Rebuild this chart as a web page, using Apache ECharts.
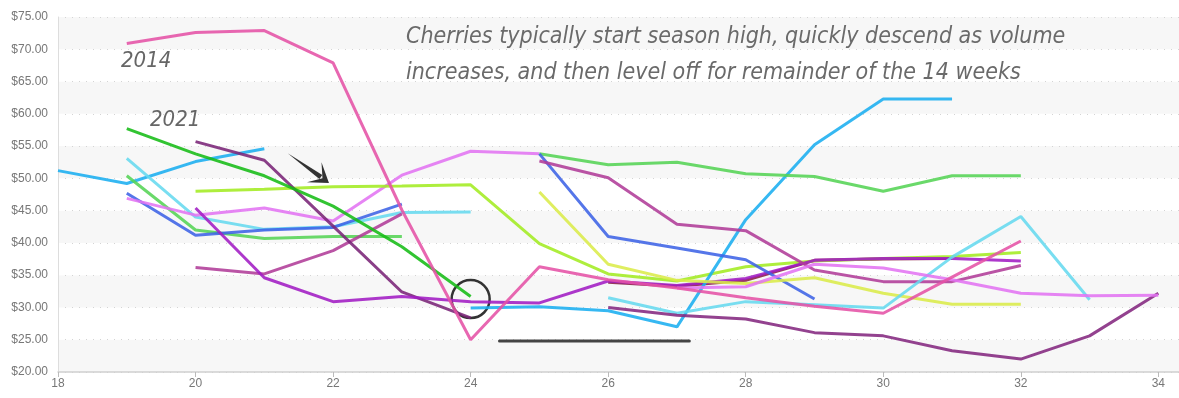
<!DOCTYPE html>
<html>
<head>
<meta charset="utf-8">
<script src="https://cdn.jsdelivr.net/npm/echarts@6/dist/echarts.min.js"></script>
<style>
  html, body { margin: 0; padding: 0; background: #fff; }
  #chart { width: 1179px; height: 398px; }
</style>
</head>
<body>
<div id="chart"></div>
<script>
// weekly cherry prices, one line per season (first week + weekly values)
var pinkStart = 19;
var pinkVals = [70.9, 72.6, 72.9, 67.9, 45.1, 25.0, 36.3, 34.3, 33.0, 31.5, 30.2, 29.1, 34.7, 40.3];
var greenStart = 19;
var greenVals = [57.7, 53.8, 50.4, 45.7, 39.4, 31.7];
var skyAStart = 18;
var skyAVals = [51.2, 49.2, 52.6, 54.6];
var cyanAStart = 19;
var cyanAVals = [53.1, 44.0, 42.1, 42.5, 44.7, 44.8];
var mgreenAStart = 19;
var mgreenAVals = [50.4, 42.0, 40.7, 41.0, 41.0];
var limeStart = 20;
var limeVals = [48.0, 48.3, 48.7, 48.8, 49.0, 39.9, 35.2, 34.1, 36.3, 37.2, 37.6, 37.9, 38.5];
var orchidAStart = 19;
var orchidAVals = [46.9, 44.3, 45.4, 43.4, 50.5, 54.2, 53.8];
var royalAStart = 19;
var royalAVals = [47.7, 41.2, 42.0, 42.4, 46.0];
var purpleStart = 20;
var purpleVals = [45.4, 34.6, 30.9, 31.7, 30.9, 30.7, 34.1, 33.4, 34.5, 37.3, 37.6, 37.6, 37.2];
var dpurpleAStart = 20;
var dpurpleAVals = [55.7, 52.8, 42.6, 32.4, 28.4];
var magentaAStart = 20;
var magentaAVals = [36.2, 35.2, 38.8, 44.5];
var skyBStart = 24;
var skyBVals = [29.9, 30.1, 29.5, 27.0, 43.6, 55.2, 62.3, 62.3];
var mgreenBStart = 25;
var mgreenBVals = [53.8, 52.1, 52.5, 50.7, 50.3, 48.0, 50.4, 50.4];
var royalBStart = 25;
var royalBVals = [53.8, 41.0, 39.2, 37.4, 31.3];
var magentaBStart = 25;
var magentaBVals = [52.7, 50.1, 42.9, 41.9, 35.8, 34.0, 34.0, 36.5];
var yellowStart = 25;
var yellowVals = [47.9, 36.7, 34.2, 33.7, 34.6, 32.2, 30.5, 30.5];
var cyanBStart = 26;
var cyanBVals = [31.5, 29.1, 30.9, 30.4, 29.9, 37.8, 44.1, 31.2];
var dpurpleBStart = 26;
var dpurpleBVals = [30.0, 28.8, 28.2, 26.1, 25.6, 23.3, 22.0, 25.6, 32.2];
var orchidBStart = 27;
var orchidBVals = [33.0, 33.2, 36.7, 36.1, 34.3, 32.2, 31.8, 31.9];
var maroonStart = 26;
var maroonVals = [33.9, 33.3, 34.2, 37.3, 37.5, 37.6];

var yTicks = { min: 20, max: 75, step: 5 };
var xTicks = { min: 18, max: 34.3, step: 2 };

var lines = [
    [maroonStart, maroonVals, '#8a1f45'],
    [skyAStart, skyAVals, '#1aaef0'],
    [cyanAStart, cyanAVals, '#66d9ef'],
    [mgreenAStart, mgreenAVals, '#55d455'],
    [royalAStart, royalAVals, '#3d63e6'],
    [orchidAStart, orchidAVals, '#e274f2'],
    [magentaAStart, magentaAVals, '#b03c98'],
    [limeStart, limeVals, '#a3ec22'],
    [dpurpleAStart, dpurpleAVals, '#7a2478'],
    [purpleStart, purpleVals, '#a21cc4'],
    [greenStart, greenVals, '#16bc16'],
    [skyBStart, skyBVals, '#1aaef0'],
    [mgreenBStart, mgreenBVals, '#55d455'],
    [royalBStart, royalBVals, '#3d63e6'],
    [magentaBStart, magentaBVals, '#b03c98'],
    [yellowStart, yellowVals, '#dbec4a'],
    [cyanBStart, cyanBVals, '#66d9ef'],
    [dpurpleBStart, dpurpleBVals, '#84287f'],
    [orchidBStart, orchidBVals, '#e274f2'],
    [pinkStart, pinkVals, '#e552a6']
];

var series = lines.map(function (l) {
    return {
        type: 'line',
        showSymbol: false,
        symbol: 'none',
        silent: true,
        lineStyle: { width: 3, color: l[2], opacity: 0.88 },
        data: l[1].map(function (v, i) { return [l[0] + i, v]; })
    };
});

var myChart = echarts.init(document.getElementById('chart'));
var handFont = '"Liberation Sans Narrow", "DejaVu Sans Condensed", sans-serif';

var option = {
    animation: false,
    grid: { left: 58, right: 0, top: 17, bottom: 26, outerBoundsMode: 'none' },
    xAxis: {
        type: 'value',
        min: xTicks.min,
        max: xTicks.max,
        interval: xTicks.step,
        axisLine: { lineStyle: { color: '#cfcfcf', width: 1.5 } },
        axisTick: { show: true, length: 5, lineStyle: { color: '#bbb' } },
        axisLabel: { color: '#777', fontSize: 12, fontFamily: 'Liberation Sans', margin: 6, showMaxLabel: false },
        splitLine: { show: false }
    },
    yAxis: {
        type: 'value',
        min: yTicks.min,
        max: yTicks.max,
        interval: yTicks.step,
        axisLine: { show: true, lineStyle: { color: '#ddd' } },
        axisTick: { show: false },
        axisLabel: {
            color: '#777', fontSize: 12, fontFamily: 'Liberation Sans', margin: 10,
            formatter: function (v) { return '$' + v.toFixed(2); }
        },
        splitLine: { show: true, lineStyle: { color: '#d4d4d4', type: [1, 6] } },
        splitArea: { show: true, areaStyle: { color: ['#f7f7f7', '#ffffff'] } }
    },
    series: series
};

myChart.setOption(option);

// annotations tied to the data space
var circ = myChart.convertToPixel({ gridIndex: 0 }, [24, 31.3]);
var barL = myChart.convertToPixel({ gridIndex: 0 }, [24.42, 24.8]);
var barR = myChart.convertToPixel({ gridIndex: 0 }, [27.18, 24.8]);
var arrA = myChart.convertToPixel({ gridIndex: 0 }, [21.34, 53.9]);
var arrB = myChart.convertToPixel({ gridIndex: 0 }, [21.94, 49.3]);

var dx = arrB[0] - arrA[0], dy = arrB[1] - arrA[1];
var len = Math.sqrt(dx * dx + dy * dy);
var ux = dx / len, uy = dy / len;
var nx = -uy, ny = ux;
var head = 22;
function wing(sign) {
    var a = sign * 0.6;
    var wx = -(ux * Math.cos(a) - uy * Math.sin(a)) * head;
    var wy = -(ux * Math.sin(a) + uy * Math.cos(a)) * head;
    return [arrB[0] + wx, arrB[1] + wy];
}
// tapered shaft: thin at the tail, wider near the head
var shaft = [
    [arrA[0], arrA[1]],
    [arrB[0] - ux * 10 + nx * 2.5, arrB[1] - uy * 10 + ny * 2.5],
    [arrB[0] - ux * 10 - nx * 2.5, arrB[1] - uy * 10 - ny * 2.5]
];

myChart.setOption({
    graphic: [
        {
            type: 'text', left: 406, top: 19, silent: true,
            style: {
                text: 'Cherries typically start season high, quickly descend as volume\nincreases, and then level off for remainder of the 14 weeks',
                font: 'italic 23px ' + handFont,
                fill: '#6a6a6a',
                lineHeight: 36
            }
        },
        {
            type: 'text', left: 121, top: 50, silent: true,
            style: { text: '2014', font: 'italic 22px ' + handFont, fill: '#666' }
        },
        {
            type: 'text', left: 150, top: 109, silent: true,
            style: { text: '2021', font: 'italic 22px ' + handFont, fill: '#666' }
        },
        {
            type: 'circle', silent: true,
            shape: { cx: circ[0], cy: circ[1], r: 19 },
            style: { fill: 'none', stroke: '#333', lineWidth: 2.5 }
        },
        {
            type: 'line', silent: true,
            shape: { x1: barL[0], y1: barL[1], x2: barR[0], y2: barR[1] },
            style: { stroke: '#444', lineWidth: 3, lineCap: 'round' }
        },
        {
            type: 'polygon', silent: true,
            shape: { points: shaft },
            style: { fill: '#333' }
        },
        {
            type: 'polygon', silent: true,
            shape: { points: [wing(1), [arrB[0], arrB[1]], wing(-1), [arrB[0] - ux * 8, arrB[1] - uy * 8]] },
            style: { fill: '#333' }
        }
    ]
});

window.addEventListener('resize', function () {
    myChart.resize();
});
</script>
</body>
</html>
